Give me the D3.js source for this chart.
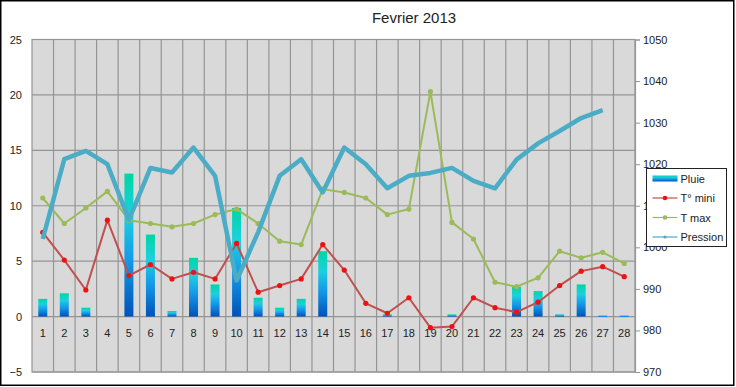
<!DOCTYPE html>
<html>
<head>
<meta charset="utf-8">
<script src="https://cdn.jsdelivr.net/npm/d3@7"></script>
<style>
  body { margin: 0; background: #fff; }
  svg { display: block; font-family: "Liberation Sans", Arial, sans-serif; }
</style>
</head>
<body>
<svg id="chart" width="736" height="387"></svg>
<script>
// Données du mois
var jours = d3.range(1, 29).map(String);
var pluie = [1.6, 2.1, 0.8, 0, 12.9, 7.4, 0.5, 5.3, 2.9, 9.8, 1.7, 0.8, 1.6, 5.9,
             0, 0, 0.2, 0, 0, 0.2, 0, 0, 2.7, 2.3, 0.2, 2.9, 0.1, 0.1];
var tMini = [7.6, 5.1, 2.4, 8.7, 3.7, 4.7, 3.4, 4.0, 3.4, 6.6, 2.2, 2.8, 3.4, 6.5,
             4.2, 1.2, 0.3, 1.7, -1.0, -0.9, 1.7, 0.8, 0.4, 1.3, 2.8, 4.1, 4.5, 3.6];
var tMax = [10.7, 8.4, 9.8, 11.3, 8.7, 8.4, 8.1, 8.4, 9.2, 9.7, 8.4, 6.8, 6.5, 11.5,
            11.2, 10.7, 9.2, 9.7, 20.3, 8.5, 7.0, 3.1, 2.7, 3.5, 5.9, 5.3, 5.8, 4.8];
var pression = [1002, 1021.2, 1023.2, 1020, 1006.6, 1019.1, 1018, 1024, 1017.2, 992,
                1003.6, 1017.2, 1021.2, 1013.2, 1024, 1020, 1014.2, 1017.2, 1017.9, 1019.1,
                1016, 1014.2, 1021.1, 1025, 1028, 1031.1, 1033, null];
var ticksGauche = [-5, 0, 5, 10, 15, 20, 25];
var ticksDroite = [970, 980, 990, 1000, 1010, 1020, 1030, 1040, 1050];

var svg = d3.select('#chart');
var plot = { left: 32, right: 635, top: 39.5, bottom: 372 };

var x = d3.scaleBand().domain(jours).range([plot.left, plot.right]);
var yG = d3.scaleLinear().domain([-5, 25]).range([plot.bottom, plot.top]);
var yD = d3.scaleLinear().domain([970, 1050]).range([plot.bottom, plot.top]);

// cadre extérieur
svg.append('rect')
    .attr('x', 0.75).attr('y', 0.75)
    .attr('width', 733).attr('height', 384.5)
    .attr('fill', '#fff')
    .attr('stroke', '#000')
    .attr('stroke-width', 1.5);

// dégradé des barres
var grad = svg.append('defs').append('linearGradient')
    .attr('id', 'gradPluie')
    .attr('x1', 0).attr('y1', 0).attr('x2', 0).attr('y2', 1);
grad.append('stop').attr('offset', '0%').attr('stop-color', '#00d6a2');
grad.append('stop').attr('offset', '30%').attr('stop-color', '#1cd0e0');
grad.append('stop').attr('offset', '60%').attr('stop-color', '#159ae8');
grad.append('stop').attr('offset', '100%').attr('stop-color', '#0052b8');

// fond de la zone
svg.append('rect')
    .attr('x', plot.left).attr('y', plot.top)
    .attr('width', plot.right - plot.left)
    .attr('height', plot.bottom - plot.top)
    .attr('fill', '#d9d9d9');

// grille
var grille = svg.append('g').attr('stroke', '#959595').attr('stroke-width', 1.2);
grille.selectAll('.h').data(ticksGauche).enter().append('line')
    .attr('x1', plot.left).attr('x2', plot.right)
    .attr('y1', d => yG(d)).attr('y2', d => yG(d));
grille.selectAll('.v').data(jours.slice(1)).enter().append('line')
    .attr('x1', d => x(d)).attr('x2', d => x(d))
    .attr('y1', plot.top).attr('y2', plot.bottom);
grille.append('rect')
    .attr('x', plot.left).attr('y', plot.top)
    .attr('width', plot.right - plot.left)
    .attr('height', plot.bottom - plot.top)
    .attr('fill', 'none');

// axe gauche
var axeG = svg.append('g')
    .attr('transform', `translate(${plot.left - 8},0)`)
    .call(d3.axisLeft(yG).tickValues(ticksGauche).tickSize(0).tickPadding(2));
axeG.select('.domain').remove();
axeG.selectAll('text').attr('font-size', 11).attr('fill', '#222')
    .attr('font-family', '"Liberation Sans", Arial, sans-serif');

// axe droit
var axeD = svg.append('g')
    .attr('transform', `translate(${plot.right},0)`)
    .call(d3.axisRight(yD).tickValues(ticksDroite).tickFormat(d3.format('d'))
        .tickSize(5).tickPadding(3));
axeD.select('.domain').attr('stroke', '#959595').attr('stroke-width', 1.2);
axeD.selectAll('line').attr('stroke', '#959595');
axeD.selectAll('text').attr('font-size', 11).attr('fill', '#222')
    .attr('font-family', '"Liberation Sans", Arial, sans-serif');

// étiquettes des jours
var axeX = svg.append('g')
    .attr('transform', `translate(0,${yG(0)})`)
    .call(d3.axisBottom(x).tickSize(0).tickPadding(13));
axeX.select('.domain').remove();
axeX.selectAll('text').attr('font-size', 11).attr('fill', '#222')
    .attr('font-family', '"Liberation Sans", Arial, sans-serif');

// barres de pluie
var bw = 9;
svg.append('g').selectAll('rect')
    .data(pluie.map((v, i) => ({ j: jours[i], v: v })).filter(d => d.v > 0))
    .enter().append('rect')
    .attr('x', d => x(d.j) + x.bandwidth() / 2 - bw / 2)
    .attr('width', bw)
    .attr('y', d => yG(d.v))
    .attr('height', d => Math.max(yG(0) - yG(d.v), 1.5))
    .attr('fill', 'url(#gradPluie)');

// lignes
function ligne(data, yScale, couleur, epaisseur) {
    var l = d3.line()
        .defined(d => d != null)
        .x((d, i) => x(jours[i]) + x.bandwidth() / 2)
        .y(d => yScale(d));
    svg.append('path').datum(data)
        .attr('d', l)
        .attr('fill', 'none')
        .attr('stroke', couleur)
        .attr('stroke-width', epaisseur)
        .attr('stroke-linejoin', 'round');
}

ligne(tMini, yG, '#c0504d', 2);
svg.append('g').selectAll('circle').data(tMini).enter().append('circle')
    .attr('cx', (d, i) => x(jours[i]) + x.bandwidth() / 2)
    .attr('cy', d => yG(d))
    .attr('r', 2.6)
    .attr('fill', '#ee1111');

ligne(tMax, yG, '#9bbb59', 2);
svg.append('g').selectAll('circle').data(tMax).enter().append('circle')
    .attr('cx', (d, i) => x(jours[i]) + x.bandwidth() / 2)
    .attr('cy', d => yG(d))
    .attr('r', 2.6)
    .attr('fill', '#9bbb59');

ligne(pression, yD, '#4bacc6', 4.5);

// titre
svg.append('text')
    .attr('x', 414).attr('y', 23)
    .attr('text-anchor', 'middle')
    .attr('font-size', 15)
    .attr('fill', '#222')
    .text('Fevrier 2013');

// légende
var leg = svg.append('g').attr('transform', 'translate(646.5,168.5)');
leg.append('rect')
    .attr('width', 80).attr('height', 78)
    .attr('fill', '#fff').attr('stroke', '#222').attr('stroke-width', 1);
var items = [
    { nom: 'Pluie', type: 'bar' },
    { nom: 'T° mini', type: 'ligne', c: '#c0504d', m: '#ee1111' },
    { nom: 'T max', type: 'ligne', c: '#9bbb59', m: '#9bbb59' },
    { nom: 'Pression', type: 'ligne', c: '#4bacc6', m: '#4bacc6' }
];
items.forEach(function (it, i) {
    var yy = 10 + i * 19.5;
    if (it.type === 'bar') {
        leg.append('rect').attr('x', 6).attr('y', yy - 3).attr('width', 25).attr('height', 6)
            .attr('fill', 'url(#gradPluie)');
    } else {
        leg.append('line').attr('x1', 6).attr('x2', 31).attr('y1', yy).attr('y2', yy)
            .attr('stroke', it.c).attr('stroke-width', 1.2);
        leg.append('circle').attr('cx', 18.5).attr('cy', yy).attr('r', i === 3 ? 1.6 : 2.3)
            .attr('fill', it.m);
    }
    leg.append('text').attr('x', 34).attr('y', yy + 4)
        .attr('font-size', 11).attr('fill', '#222')
        .text(it.nom);
});
</script>
</body>
</html>
